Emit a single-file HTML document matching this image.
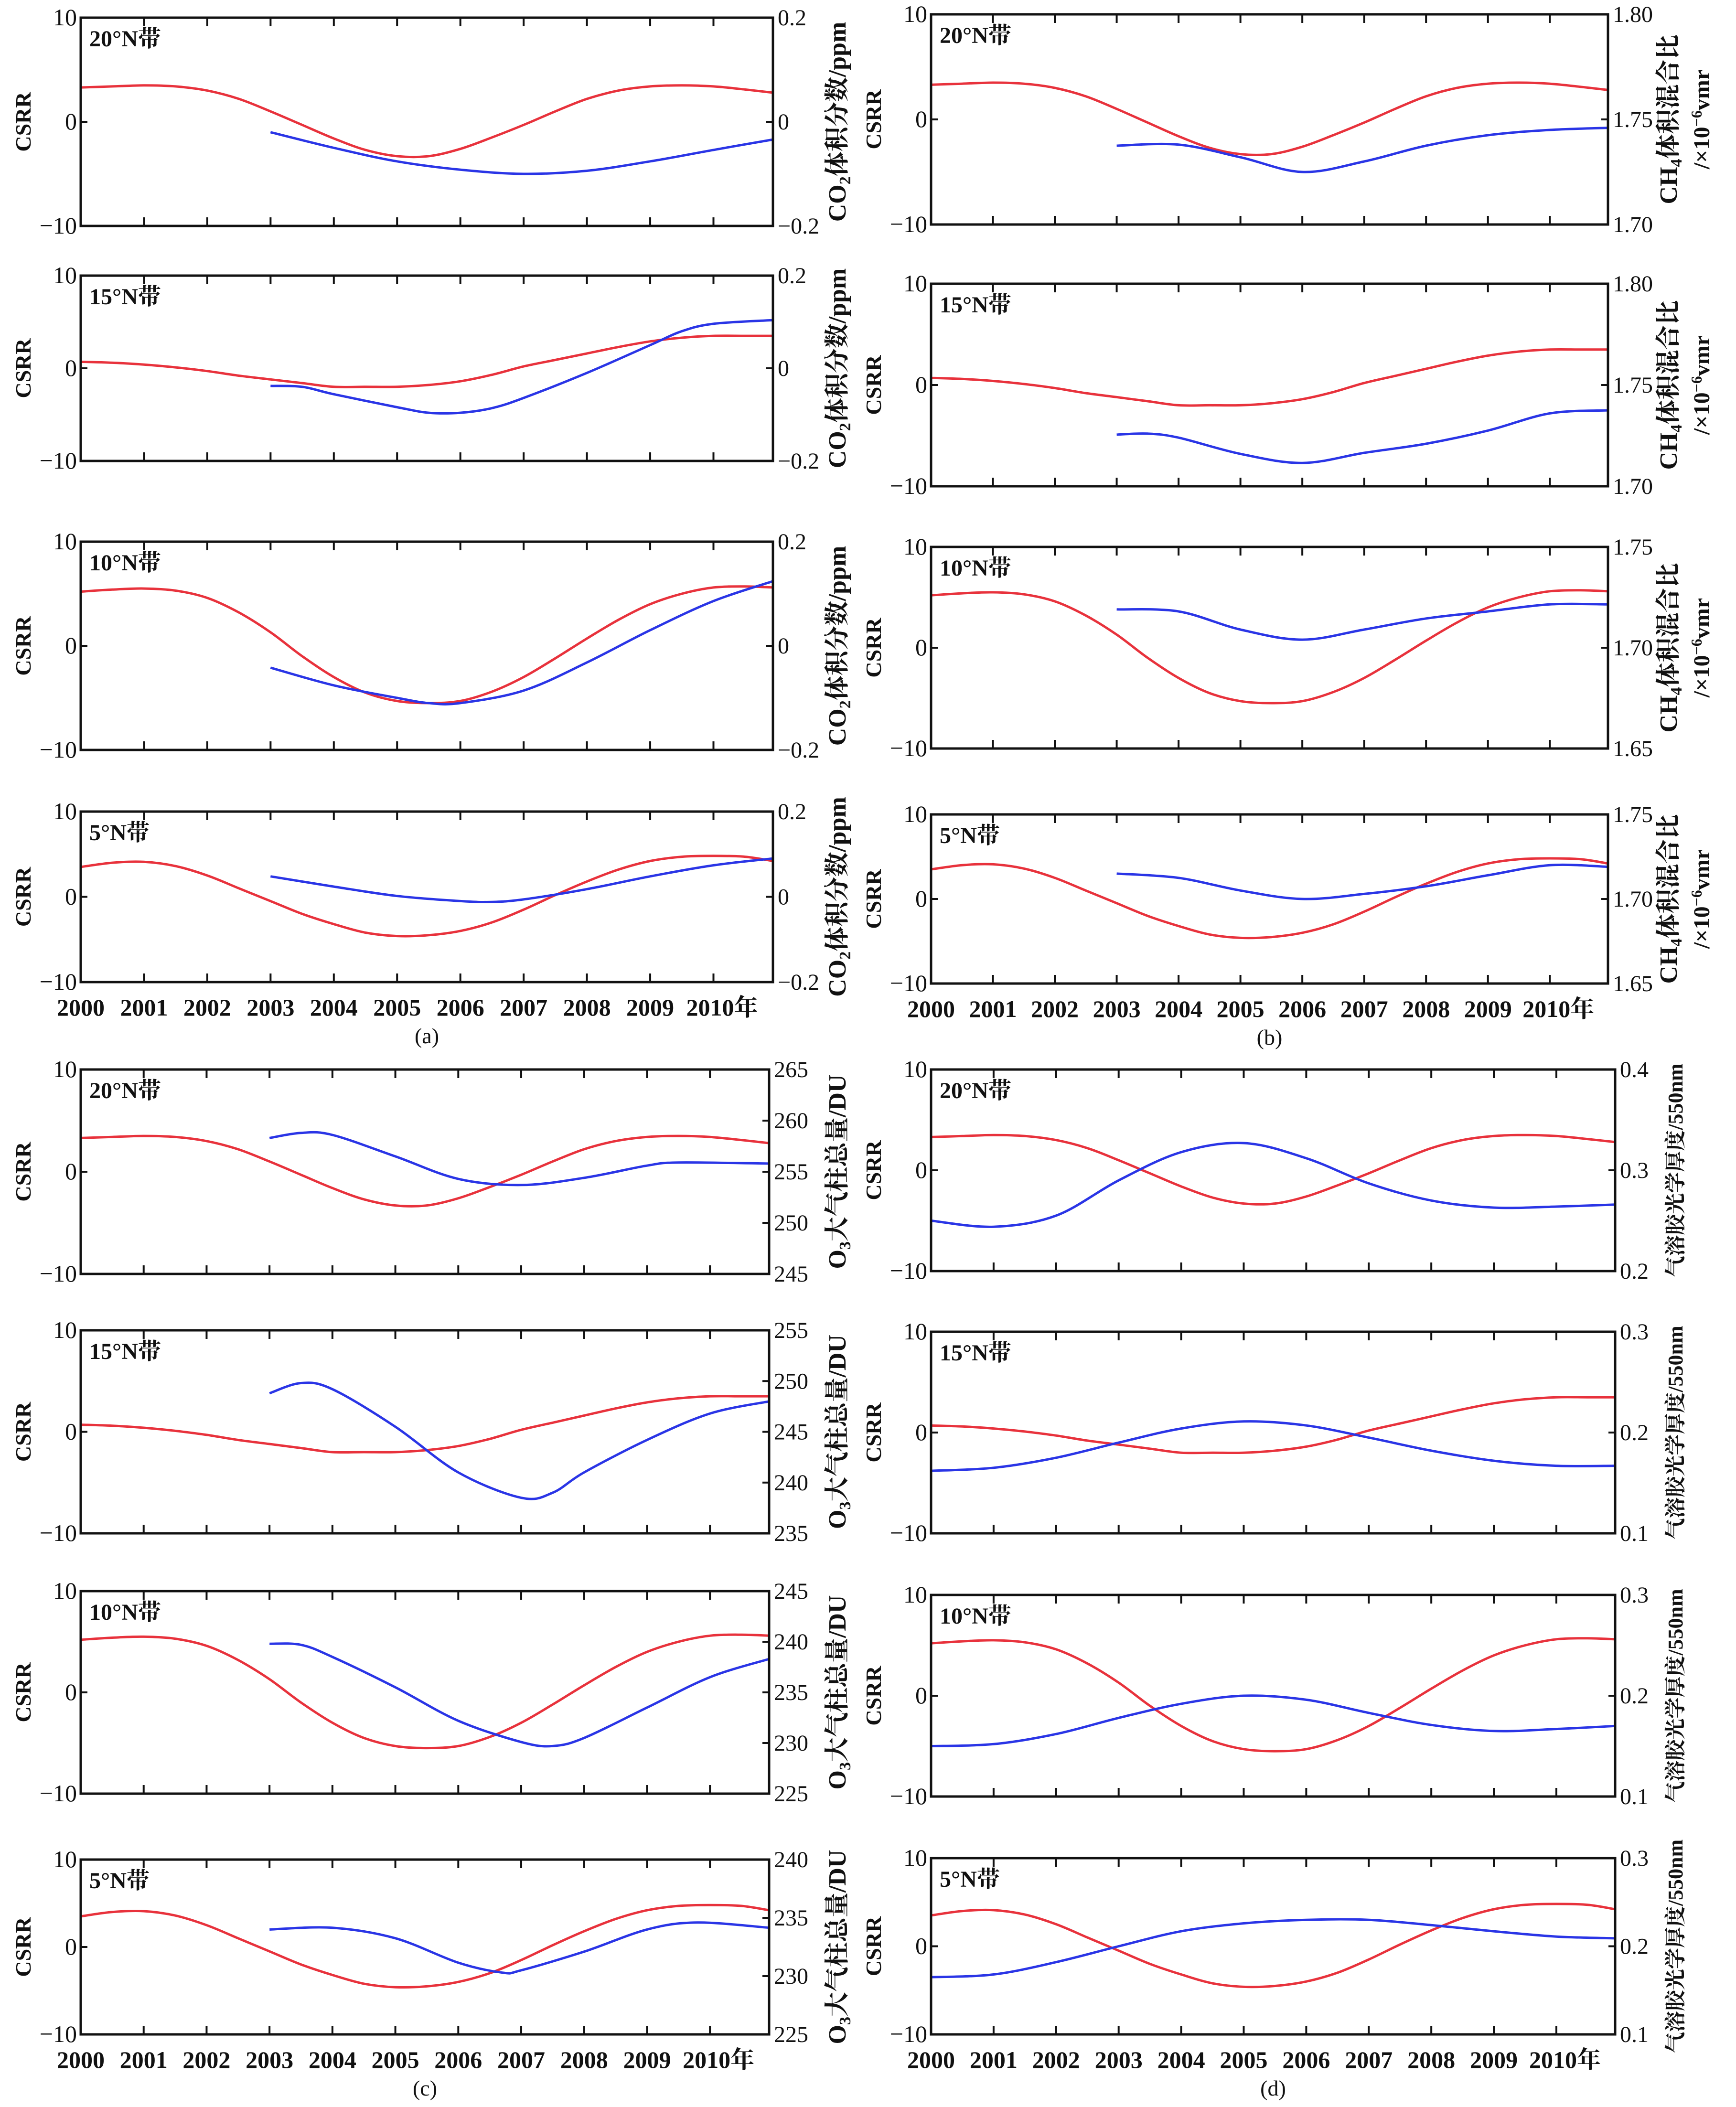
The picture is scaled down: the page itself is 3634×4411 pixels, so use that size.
<!DOCTYPE html>
<html><head><meta charset="utf-8">
<style>
html,body{margin:0;padding:0;background:#fff;}
svg{display:block;}
text{font-family:"Liberation Serif","Noto Serif CJK SC","Noto Sans CJK SC",serif;fill:#111;}
</style></head>
<body>
<svg id="chart" xmlns="http://www.w3.org/2000/svg" width="3634" height="4411" viewBox="0 0 3634 4411"></svg>
<script>
const xTickYears = [2000,2001,2002,2003,2004,2005,2006,2007,2008,2009,2010];
const xTickLabels = ["2000","2001","2002","2003","2004","2005","2006","2007","2008","2009","2010年"];
const leftTicks = [10,0,-10];

const redYears = [2000,2000.5,2001,2001.5,2002,2002.5,2003,2003.5,2004,2004.5,2005,2005.5,2006,2006.5,2007,2007.5,2008,2008.5,2009,2009.5,2010,2010.5,2010.94];
const red20N = [3.3,3.4,3.5,3.4,3.0,2.2,1.0,-0.3,-1.6,-2.7,-3.3,-3.3,-2.6,-1.5,-0.3,1.0,2.2,3.0,3.4,3.5,3.4,3.1,2.8];
const red15N = [0.7,0.6,0.4,0.1,-0.3,-0.8,-1.2,-1.6,-2.0,-2.0,-2.0,-1.8,-1.4,-0.7,0.2,0.9,1.6,2.3,2.9,3.3,3.5,3.5,3.5];
const red10N = [5.2,5.4,5.5,5.3,4.6,3.2,1.3,-1.0,-3.0,-4.5,-5.3,-5.5,-5.3,-4.4,-3.0,-1.2,0.7,2.5,4.0,5.0,5.6,5.7,5.6];
const red5N  = [3.5,4.0,4.1,3.6,2.5,1.0,-0.5,-2.0,-3.2,-4.2,-4.6,-4.5,-4.0,-3.0,-1.5,0.2,1.8,3.2,4.2,4.7,4.8,4.7,4.2];

const yrsA1 = [2003,2004,2005,2006,2007,2008,2009,2010,2010.94];
const blueA1 = [-0.02,-0.05,-0.076,-0.092,-0.1,-0.094,-0.076,-0.054,-0.034];
const yrsA2 = [2003,2003.5,2004,2005,2005.5,2006,2006.5,2007,2008,2009,2009.5,2010,2010.94];
const blueA2 = [-0.038,-0.04,-0.056,-0.084,-0.096,-0.096,-0.086,-0.064,-0.01,0.05,0.08,0.096,0.104];
const yrsA3 = [2003,2004,2005,2005.5,2006,2007,2008,2009,2010,2010.94];
const blueA3 = [-0.042,-0.076,-0.1,-0.11,-0.11,-0.086,-0.032,0.03,0.086,0.124];
const yrsA4 = [2003,2004,2005,2006,2006.5,2007,2008,2009,2010,2010.94];
const blueA4 = [0.048,0.024,0.002,-0.01,-0.012,-0.006,0.018,0.048,0.074,0.09];

const yrsB = [2003,2004,2005,2006,2007,2008,2009,2010,2010.94];
const blueB1 = [1.7375,1.738,1.732,1.725,1.730,1.7375,1.7425,1.745,1.746];
const yrsB2 = [2003,2003.5,2004,2005,2006,2007,2008,2009,2010,2010.94];
const blueB2 = [1.7255,1.726,1.724,1.716,1.7115,1.7165,1.721,1.7275,1.736,1.7375];
const blueB3 = [1.719,1.718,1.709,1.704,1.709,1.7145,1.718,1.7215,1.7215];
const blueB4 = [1.715,1.7125,1.705,1.70,1.703,1.7075,1.714,1.72,1.719];

const yrsC1 = [2003,2003.5,2004,2005,2006,2007,2008,2009,2009.5,2010.94];
const blueC1 = [258.3,258.8,258.6,256.5,254.3,253.7,254.4,255.6,255.9,255.8];
const yrsC2 = [2003,2003.5,2004,2005,2006,2007,2007.5,2008,2009,2010,2010.94];
const blueC2 = [248.8,249.8,249.2,245.5,241,238.5,239,241,244.2,246.8,248];
const yrsC3 = [2003,2003.5,2004,2005,2006,2007,2007.5,2008,2009,2010,2010.94];
const blueC3 = [239.8,239.7,238.5,235.5,232.2,230.1,229.7,230.5,233.5,236.5,238.3];
const yrsC4 = [2003,2004,2005,2006,2006.7,2007,2008,2009,2009.8,2010.94];
const blueC4 = [234,234.15,233.25,231.15,230.3,230.5,232.1,234,234.6,234.15];

const yrsD = [2000,2001,2002,2003,2004,2005,2006,2007,2008,2009,2010,2010.94];
const blueD1 = [0.25,0.244,0.255,0.29,0.318,0.327,0.312,0.287,0.27,0.263,0.264,0.266];
const blueD2 = [0.162,0.165,0.175,0.19,0.204,0.211,0.207,0.195,0.182,0.172,0.167,0.167];
const blueD3 = [0.15,0.152,0.162,0.178,0.192,0.2,0.196,0.183,0.171,0.165,0.167,0.17];
const blueD4 = [0.165,0.168,0.182,0.2,0.217,0.226,0.23,0.23,0.224,0.217,0.211,0.209];

const rTicksA = ["0.2","0","−0.2"];
const rTicksB1 = ["1.80","1.75","1.70"];
const rTicksB3 = ["1.75","1.70","1.65"];
const rTicksC1 = ["265","260","255","250","245"];
const rTicksC2 = ["255","250","245","240","235"];
const rTicksC3 = ["245","240","235","230","225"];
const rTicksC4 = ["240","235","230","225"];
const rTicksD1 = ["0.4","0.3","0.2"];
const rTicksD2 = ["0.3","0.2","0.1"];

const svg = document.getElementById('chart');
const NS = 'http://www.w3.org/2000/svg';
function mk(tag, attrs, parent){const e=document.createElementNS(NS,tag);for(const k in attrs)e.setAttribute(k,attrs[k]);(parent||svg).appendChild(e);return e;}

function smoothPath(pts){
  let d='M'+pts[0][0].toFixed(1)+','+pts[0][1].toFixed(1);
  for(let i=0;i<pts.length-1;i++){
    const p0=pts[i-1]||pts[i],p1=pts[i],p2=pts[i+1],p3=pts[i+2]||p2;
    const c1=[p1[0]+(p2[0]-p0[0])/6,p1[1]+(p2[1]-p0[1])/6];
    const c2=[p2[0]-(p3[0]-p1[0])/6,p2[1]-(p3[1]-p1[1])/6];
    d+='C'+c1[0].toFixed(1)+','+c1[1].toFixed(1)+' '+c2[0].toFixed(1)+','+c2[1].toFixed(1)+' '+p2[0].toFixed(1)+','+p2[1].toFixed(1);
  }
  return d;
}

const XMIN=2000, XMAX=2010.94;
function panel(cfg){
  const g=mk('g',{});
  
  
  const {x0,x1,y0,y1,rmin,rmax}=cfg;
  const xs=v=>x0+(v-XMIN)/(XMAX-XMIN)*(x1-x0);
  const yl=v=>y1-(v+10)/20*(y1-y0);
  const yr=v=>y1-(v-rmin)/(rmax-rmin)*(y1-y0);
  const rp=mk('path',{d:smoothPath(redYears.map((y,i)=>[xs(y),yl(cfg.red[i])])),fill:'none',stroke:'#e8323c','stroke-width':5},g);
  
  
  const bp=mk('path',{d:smoothPath(cfg.byears.map((y,i)=>[xs(y),yr(cfg.blue[i])])),fill:'none',stroke:'#2a35e6','stroke-width':5},g);
  
  
  const fr=mk('rect',{x:x0,y:y0,width:x1-x0,height:y1-y0,fill:'none',stroke:'#111','stroke-width':5},g);
  
  
  xTickYears.forEach((yv)=>{
    const x=xs(yv);
    mk('line',{x1:x,x2:x,y1:y1,y2:y1-18,stroke:'#111','stroke-width':4},g);
    mk('line',{x1:x,x2:x,y1:y0,y2:y0+18,stroke:'#111','stroke-width':4},g);
  });
  leftTicks.forEach(v=>{
    const y=yl(v);
    mk('line',{x1:x0,x2:x0+14,y1:y,y2:y,stroke:'#111','stroke-width':4},g);
    const t=mk('text',{x:x0-8,y:y+16,'text-anchor':'end','font-size':50},g);
    t.textContent=v<0?'−10':String(v);
    
    
  });
  const n=cfg.rticks.length;
  cfg.rticks.forEach((lab,i)=>{
    const y=y0+i/(n-1)*(y1-y0);
    mk('line',{x1:x1,x2:x1-14,y1:y,y2:y,stroke:'#111','stroke-width':4},g);
    const t=mk('text',{x:x1+10,y:y+16,'font-size':48},g);
    t.textContent=lab;
    
    
  });
  const pl=mk('text',{x:x0+18,y:y0+60,'font-size':48,'font-weight':'bold'},g);
  pl.textContent=cfg.band;
  
  
  const cy=(y0+y1)/2;
  const ct=mk('text',{x:0,y:0,'font-size':46,'font-weight':'bold','text-anchor':'middle',transform:`translate(${x0-105},${cy}) rotate(-90)`},g);
  ct.textContent='CSRR';
  
  
  const rt=mk('text',{x:0,y:0,'font-size':cfg.rsize||52,'font-weight':'bold','text-anchor':'middle',transform:`translate(${cfg.rtx},${cy}) rotate(-90)`},g);
  rt.innerHTML=cfg.rtitle;
  
  
  if(cfg.rtitle2){
    const rt2=mk('text',{x:0,y:0,'font-size':48,'font-weight':'bold','text-anchor':'middle',transform:`translate(${cfg.rtx+68},${cy}) rotate(-90)`},g);
    rt2.innerHTML=cfg.rtitle2;
    
    
  }
  if(cfg.xlabels){
    xTickYears.forEach((yv,i)=>{
      const t=mk('text',{x:xs(yv)+(i==10?18:0),y:y1+70,'text-anchor':'middle','font-size':50,'font-weight':'bold'},g);
      t.textContent=xTickLabels[i];
      
      
    });
    const c=mk('text',{x:(x0+x1)/2,y:y1+128,'text-anchor':'middle','font-size':46},g);
    c.textContent=cfg.caption;
    
    
  }
}
const co2='CO<tspan font-size="34" dy="10">2</tspan><tspan dy="-10">体积分数/ppm</tspan>';
const ch4='CH<tspan font-size="34" dy="10">4</tspan><tspan dy="-10">体积混合比</tspan>';
const ch4u='/×10<tspan font-size="32" dy="-16">−6</tspan><tspan dy="16">vmr</tspan>';
const o3='O<tspan font-size="34" dy="10">3</tspan><tspan dy="-10">大气柱总量/DU</tspan>';
const aod='气溶胶光学厚度/550nm';
const bands=['20°N带','15°N带','10°N带','5°N带'];
const reds=[red20N,red15N,red10N,red5N];
const A=[[37,473],[577,965],[1134,1570],[1699,2056]];
const B=[[30,470],[594,1018],[1145,1567],[1705,2059]];
const C=[[2239,2667],[2785,3210],[3331,3755],[3893,4259]];
const D=[[2239,2661],[2788,3210],[3339,3761],[3890,4259]];
const aY=[yrsA1,yrsA2,yrsA3,yrsA4], aB=[blueA1,blueA2,blueA3,blueA4];
const bY=[yrsB,yrsB2,yrsB,yrsB], bB=[blueB1,blueB2,blueB3,blueB4];
const bR=[[1.70,1.80,rTicksB1],[1.70,1.80,rTicksB1],[1.65,1.75,rTicksB3],[1.65,1.75,rTicksB3]];
const cY=[yrsC1,yrsC2,yrsC3,yrsC4], cB=[blueC1,blueC2,blueC3,blueC4];
const cR=[[245,265,rTicksC1],[235,255,rTicksC2],[225,245,rTicksC3],[225,240,rTicksC4]];
const dB=[blueD1,blueD2,blueD3,blueD4];
const dR=[[0.2,0.4,rTicksD1],[0.1,0.3,rTicksD2],[0.1,0.3,rTicksD2],[0.1,0.3,rTicksD2]];
for(let i=0;i<4;i++){
  panel({id:'a'+(i+1),x0:169,x1:1618,y0:A[i][0],y1:A[i][1],rmin:-0.2,rmax:0.2,rticks:rTicksA,red:reds[i],byears:aY[i],blue:aB[i],band:bands[i],rtitle:co2,rtx:1770,xlabels:i==3,caption:'(a)'});
  panel({id:'b'+(i+1),x0:1949,x1:3366,y0:B[i][0],y1:B[i][1],rmin:bR[i][0],rmax:bR[i][1],rticks:bR[i][2],red:reds[i],byears:bY[i],blue:bB[i],band:bands[i],rtitle:ch4,rtitle2:ch4u,rtx:3510,xlabels:i==3,caption:'(b)'});
  panel({id:'c'+(i+1),x0:169,x1:1610,y0:C[i][0],y1:C[i][1],rmin:cR[i][0],rmax:cR[i][1],rticks:cR[i][2],red:reds[i],byears:cY[i],blue:cB[i],band:bands[i],rtitle:o3,rtx:1770,xlabels:i==3,caption:'(c)'});
  panel({id:'d'+(i+1),x0:1949,x1:3381,y0:D[i][0],y1:D[i][1],rmin:dR[i][0],rmax:dR[i][1],rticks:dR[i][2],red:reds[i],byears:yrsD,blue:dB[i],band:bands[i],rtitle:aod,rsize:44,rtx:3522,xlabels:i==3,caption:'(d)'});
}
</script>
</body></html>
